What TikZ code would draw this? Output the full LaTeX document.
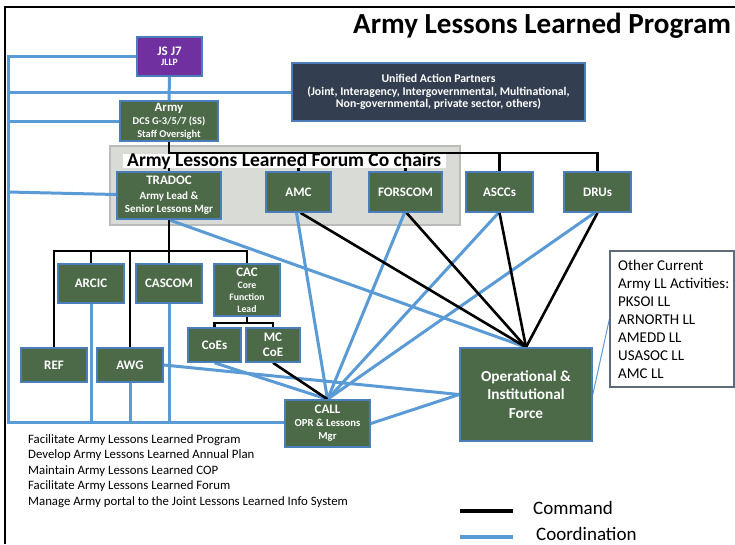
\documentclass[tikz,border=0pt]{standalone}
\usepackage{fontspec}
\setmainfont{Carlito}
\pgfdeclarelayer{background}
\pgfsetlayers{background,main}
\definecolor{armygreen}{HTML}{4C6A48}
\definecolor{bordblue}{HTML}{4A7EBB}
\definecolor{coordblue}{HTML}{5B9BD5}
\definecolor{jspurple}{HTML}{7030A0}
\definecolor{navybox}{HTML}{333F50}
\definecolor{forumgray}{HTML}{D9DBD7}
\definecolor{forumedge}{HTML}{B9BCB8}
\definecolor{othedge}{HTML}{5F6B78}
\newcommand{\fz}[2]{\fontsize{#1}{#2}\selectfont}
\begin{document}
\begin{tikzpicture}[x=1pt,y=-1pt,
  box/.style={draw=bordblue, line width=1.6pt, fill=armygreen, text=white, align=center, inner sep=0pt},
  cmd/.style={black, line width=2.6pt},
  crd/.style={coordblue, line width=3pt},
  plain/.style={inner sep=0pt, align=left},
]
\useasboundingbox (0,0) rectangle (735,544);
% frame
\draw[black, line width=2pt] (5,544) -- (5,7) -- (735,7);
% title
\node[plain, anchor=base west, font=\bfseries\fz{29.1}{30}] (title) at (353,33.3) {Army Lessons Learned Program};

% nodes
\node[box, fill=jspurple, minimum width=65pt, minimum height=39pt, font=\bfseries\fz{9.7}{10}] (jsj7) at (169.5,56.5) {\fz{13}{10}JS J7\\JLLP};
\node[box, minimum width=98pt, minimum height=40pt, font=\bfseries\fz{10.4}{13}] (army) at (169,121) {\fz{12.8}{13}Army\\DCS G-3/5/7 (SS)\\Staff Oversight};
\node[box, fill=navybox, minimum width=293pt, minimum height=58pt, font=\bfseries\fz{11.8}{12.8}] (uap) at (438.5,92) {Unified Action Partners\\(Joint, Interagency, Intergovernmental, Multinational,\\Non-governmental, private sector, others)};

\node[fill=white, inner sep=0pt, minimum width=323pt, minimum height=14pt] (flabelbg) at (284.5,161) {};
\node[plain, anchor=base west, font=\bfseries\fz{19.5}{20}] (flabel) at (127,166.5) {Army Lessons Learned Forum Co chairs};

\node[box, minimum width=104pt, minimum height=47pt, font=\bfseries\fz{11}{13}] (tradoc) at (169,195.5) {\fz{13}{13}TRADOC\\[2pt]Army Lead \&\\Senior Lessons Mgr};
\node[box, minimum width=65pt, minimum height=40pt, font=\bfseries\fz{13}{14}] (amc) at (298.5,192) {AMC};
\node[box, minimum width=73pt, minimum height=40pt, font=\bfseries\fz{13}{14}] (forscom) at (405.5,192) {FORSCOM};
\node[box, minimum width=67pt, minimum height=40pt, font=\bfseries\fz{13}{14}] (asccs) at (499.5,192) {ASCCs};
\node[box, minimum width=67pt, minimum height=40pt, font=\bfseries\fz{13}{14}] (drus) at (597.5,192) {DRUs};

\node[box, minimum width=66pt, minimum height=39pt, font=\bfseries\fz{13}{14}] (arcic) at (91,283.5) {ARCIC};
\node[box, minimum width=66pt, minimum height=39pt, font=\bfseries\fz{13}{14}] (cascom) at (169,283.5) {CASCOM};
\node[box, minimum width=66pt, minimum height=52pt, font=\bfseries\fz{9.8}{12}] (cac) at (247,290) {\fz{13}{12}CAC\\Core\\Function\\Lead};
\node[box, minimum width=53pt, minimum height=34pt, font=\bfseries\fz{13}{14}] (coes) at (214.5,345) {CoEs};
\node[box, minimum width=54pt, minimum height=34pt, font=\bfseries\fz{13}{15}] (mccoe) at (273,345) {MC\\CoE};
\node[box, minimum width=66pt, minimum height=34pt, font=\bfseries\fz{13}{14}] (ref) at (54,365) {REF};
\node[box, minimum width=66pt, minimum height=34pt, font=\bfseries\fz{13}{14}] (awg) at (130,365) {AWG};
\node[box, minimum width=85pt, minimum height=47pt, font=\bfseries\fz{10.7}{13}] (call) at (327.5,423.5) {\fz{13}{13}CALL\\OPR \& Lessons\\Mgr};
\node[box, minimum width=132pt, minimum height=93pt, font=\bfseries\fz{15.3}{18.3}] (opf) at (526,394.5) {Operational \&\\Institutional\\Force};

\node[draw=othedge, line width=1.2pt, fill=white, minimum width=124pt, minimum height=136pt, inner sep=0pt] (other) at (672,319) {};
\node[plain, anchor=north west, font=\fz{15}{18}] (othertext) at (618,259.5) {Other Current\\Army LL Activities:\\PKSOI LL\\ARNORTH LL\\AMEDD LL\\USASOC LL\\AMC LL};

\node[plain, anchor=north west, font=\fz{12.8}{15.5}] (tasks) at (28,434) {Facilitate Army Lessons Learned Program\\Develop Army Lessons Learned Annual Plan\\Maintain Army Lessons Learned COP\\Facilitate Army Lessons Learned Forum\\Manage Army portal to the Joint Lessons Learned Info System};

% legend
\coordinate (lc1) at (460,511);
\coordinate (lc2) at (513,511);
\coordinate (lb1) at (460,537);
\coordinate (lb2) at (513,537);
\draw[black, line width=3.5pt] (lc1) -- (lc2);
\draw[coordblue, line width=4pt] (lb1) -- (lb2);
\node[plain, anchor=base west, font=\fz{19}{20}] (lcmd) at (533,514) {Command};
\node[plain, anchor=base west, font=\fz{19}{20}] (lcrd) at (536,540) {Coordination};

\begin{pgfonlayer}{background}
\fill[white] (0,0) rectangle (735,544);
\node[draw=forumedge, fill=forumgray, line width=1.5pt, minimum width=350pt, minimum height=79pt, inner sep=0pt] (forum) at (285,185.5) {};
% coordination bus on the left
\coordinate (busTop) at (8,56.5);
\coordinate (busBot) at (8,422);
\draw[crd] (jsj7.west) -- (busTop) -- (busBot) -- (busBot -| call.west);
\draw[crd] (busTop |- uap.west) -- (uap.west);
\draw[crd] (busTop |- army.west) -- (army.west);
\draw[crd] (8,192) -- ([yshift=1pt]tradoc.west);
\draw[crd] (jsj7.south) -- (army.north);
\draw[crd] (arcic.south) -- (arcic.south |- busBot);
\draw[crd] (awg.south) -- (awg.south |- busBot);
\draw[crd] (cascom.south) -- (cascom.south |- busBot);
% coordination diagonals
\draw[crd] (tradoc.south) -- (opf.north);
\draw[crd] ([xshift=-2pt]amc.south) -- (call.north);
\draw[crd] ([xshift=-1pt]forscom.south) -- (call.north);
\draw[crd] ([xshift=-1pt]asccs.south) -- (call.north);
\draw[crd] ([xshift=-3pt]drus.south) -- (call.north);
\draw[crd] (coes.south) -- (call.north);
\draw[crd] (awg.east) -- (opf.west);
\draw[crd] (call.east) -- (opf.west);
\draw[coordblue, line width=1pt] (opf.east) -- (other.west);
% command lines
\coordinate (topbus) at (169,153);
\draw[cmd] (army.south) -- (topbus) -| (drus.north);
\draw[cmd] (tradoc.north) -- (topbus);
\draw[cmd] (amc.north) -- (amc.north |- topbus);
\draw[cmd] (forscom.north) -- (forscom.north |- topbus);
\draw[cmd] (asccs.north) -- (asccs.north |- topbus);
\coordinate (tb) at (169,251);
\draw[cmd] (tradoc.south) -- (cascom.north);
\draw[cmd] (ref.north) |- (tb) -| (cac.north);
\draw[cmd] (arcic.north) -- (arcic.north |- tb);
\draw[cmd] (awg.north) -- (awg.north |- tb);
\coordinate (cb) at (247,323);
\draw[cmd] (cac.south) -- (cb);
\draw[cmd] (coes.north) |- (cb) -| (mccoe.north);
\draw[cmd] (mccoe.south) -- (call.north);
\draw[cmd] ([xshift=2pt]amc.south) -- (opf.north);
\draw[cmd] ([xshift=1pt]forscom.south) -- (opf.north);
\draw[cmd] (asccs.south) -- (opf.north);
\draw[cmd] (drus.south) -- (opf.north);
\end{pgfonlayer}
\end{tikzpicture}
\end{document}
